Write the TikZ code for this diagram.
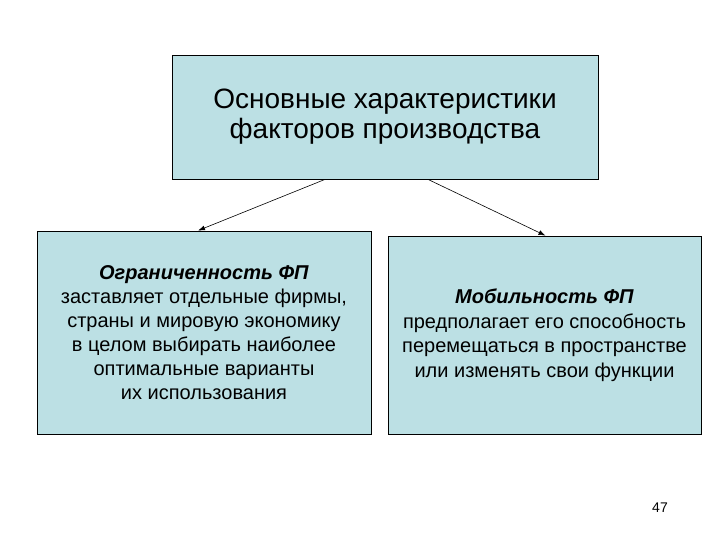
\documentclass[tikz,border=0pt]{standalone}
\usepackage{fontspec}
\setmainfont{Liberation Sans}
\usetikzlibrary{arrows.meta}
\definecolor{boxblue}{RGB}{188,224,228}

\begin{document}
\begin{tikzpicture}[x=1pt, y=-1pt,
    factbox/.style={draw=black, fill=boxblue, line width=0.8pt, align=center, inner sep=0pt},
    link/.style={-{Latex[length=7pt, width=5pt]}, line width=0.6pt}]
    \useasboundingbox (0,0) rectangle (720,540);

    \node[factbox, minimum width=426pt, minimum height=124pt,
        font=\fontsize{28}{30}\selectfont] (top) at (385,117)
        {Основные характеристики\\факторов производства};
    \node[factbox, minimum width=334pt, minimum height=203pt,
        font=\fontsize{20}{24}\selectfont] (limit) at (204,332.5)
        {\textbf{\textit{Ограниченность ФП}}\\заставляет отдельные фирмы,\\страны и мировую экономику\\в целом выбирать наиболее\\оптимальные варианты\\их использования};
    \node[factbox, minimum width=313pt, minimum height=198pt,
        font=\fontsize{20}{24.5}\selectfont] (mobil) at (544.5,335)
        {\textbf{\textit{Мобильность ФП}}\\предполагает его способность\\перемещаться в пространстве\\или изменять свои функции};

    \draw[link] ([xshift=-60pt]top.south) -- ([xshift=-6pt]limit.north);
    \draw[link] ([xshift=43pt]top.south) -- ([xshift=1pt]mobil.north);

    \node[font=\fontsize{14}{16}\selectfont] (page) at (660,508) {47};
\end{tikzpicture}
\end{document}
